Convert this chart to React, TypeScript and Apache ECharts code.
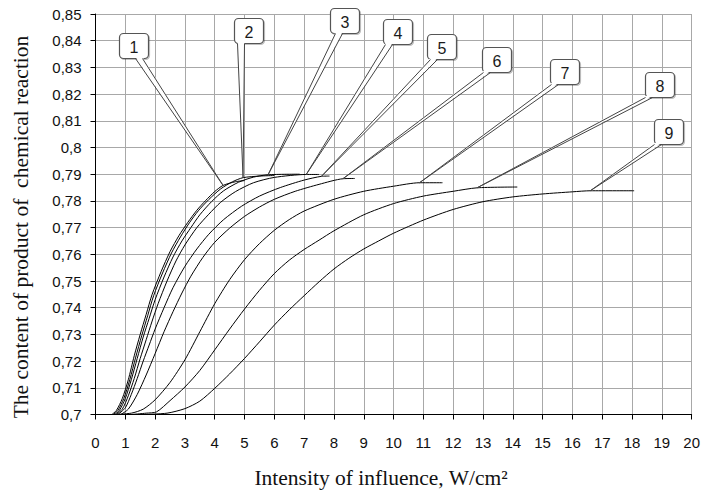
import React, { useEffect, useRef } from "react";
import * as echarts from "echarts";

// ---- data ----
const xTicks = [0, 20, 1]; // min, max, interval
const yTicks = [0.7, 0.85, 0.01];

const curve1: [number, number][] = [
  [0.55, 0.7], [0.7, 0.7015], [0.9, 0.706], [1.1, 0.713], [1.3, 0.722], [1.5, 0.73],
  [1.7, 0.7375], [1.9, 0.745], [2.2, 0.7535], [2.5, 0.761], [2.8, 0.767], [3.1, 0.772],
  [3.4, 0.7765], [3.7, 0.7802], [4.0, 0.7835], [4.28, 0.7858], [4.7, 0.7872], [5.0, 0.7876],
];
const curve2: [number, number][] = [
  [0.6, 0.7], [0.75, 0.7015], [0.95, 0.706], [1.15, 0.713], [1.35, 0.7215], [1.55, 0.7295],
  [1.75, 0.737], [1.95, 0.7445], [2.25, 0.753], [2.55, 0.7605], [2.85, 0.7665], [3.15, 0.7718],
  [3.45, 0.7763], [3.8, 0.7805], [4.2, 0.7845], [4.6, 0.7872], [4.95, 0.7887], [5.5, 0.7893], [6.0, 0.7895],
];
const curve3: [number, number][] = [
  [0.65, 0.7], [0.8, 0.7015], [1.0, 0.706], [1.2, 0.713], [1.4, 0.721], [1.6, 0.729],
  [1.8, 0.736], [2.0, 0.743], [2.3, 0.7515], [2.6, 0.759], [2.9, 0.765], [3.2, 0.770],
  [3.5, 0.7748], [3.9, 0.7798], [4.3, 0.7838], [4.8, 0.787], [5.3, 0.7889], [5.79, 0.7898], [6.85, 0.79],
];
const curve4: [number, number][] = [
  [0.7, 0.7], [0.9, 0.702], [1.1, 0.707], [1.3, 0.7135], [1.5, 0.721], [1.7, 0.728],
  [1.9, 0.735], [2.1, 0.7415], [2.4, 0.75], [2.7, 0.7575], [3.0, 0.7635], [3.4, 0.77],
  [3.8, 0.775], [4.2, 0.7795], [4.7, 0.7835], [5.3, 0.7868], [6.0, 0.7888], [7.07, 0.7899], [7.5, 0.7899],
];
const curve5: [number, number][] = [
  [0.75, 0.7], [1.0, 0.7025], [1.2, 0.7075], [1.4, 0.7135], [1.6, 0.72], [1.8, 0.726],
  [2.0, 0.732], [2.3, 0.74], [2.6, 0.7475], [3.0, 0.7555], [3.4, 0.762], [3.8, 0.7675],
  [4.3, 0.773], [4.9, 0.778], [5.5, 0.7818], [6.2, 0.785], [7.0, 0.7878], [7.58, 0.7892], [7.85, 0.7893],
];
const curve6: [number, number][] = [
  [0.85, 0.7], [1.1, 0.702], [1.4, 0.7075], [1.7, 0.7148], [2.0, 0.7228], [2.3, 0.731],
  [2.6, 0.7385], [2.9, 0.7455], [3.2, 0.7518], [3.6, 0.7588], [4.0, 0.7645], [4.5, 0.7698],
  [5.0, 0.7742], [5.5, 0.7777], [6.0, 0.7806], [6.7, 0.7836], [7.5, 0.7862], [8.3, 0.7883], [8.7, 0.7884],
];
const curve7: [number, number][] = [
  [0.6, 0.7], [1.2, 0.7005], [1.6, 0.702], [2.0, 0.7055], [2.5, 0.712], [3.0, 0.7205],
  [3.5, 0.731], [4.0, 0.7415], [4.5, 0.7505], [5.0, 0.758], [5.5, 0.764], [6.0, 0.769],
  [6.5, 0.773], [7.0, 0.7762], [8.0, 0.7806], [9.0, 0.7836], [10.0, 0.7855], [10.87, 0.7868], [11.64, 0.7868],
];
const curve8: [number, number][] = [
  [1.2, 0.7], [1.7, 0.7005], [2.05, 0.701], [2.5, 0.7052], [3.0, 0.7103], [3.5, 0.7165],
  [4.0, 0.7242], [4.5, 0.732], [5.0, 0.7395], [5.5, 0.7465], [6.0, 0.7528], [6.5, 0.7578],
  [7.0, 0.7618], [7.5, 0.7653], [8.0, 0.7688], [9.0, 0.7748], [10.0, 0.779], [11.0, 0.7818],
  [12.0, 0.7836], [12.8, 0.7849], [14.15, 0.7852],
];
const curve9: [number, number][] = [
  [1.6, 0.7], [2.4, 0.7005], [3.0, 0.7022], [3.5, 0.705], [4.0, 0.7098], [4.5, 0.7152],
  [5.0, 0.721], [5.5, 0.7272], [6.0, 0.7335], [6.5, 0.7392], [7.0, 0.7445], [7.5, 0.7497],
  [8.0, 0.7545], [8.5, 0.7585], [9.0, 0.762], [9.5, 0.765], [10.0, 0.7679], [11.0, 0.7728],
  [12.0, 0.7768], [13.0, 0.7797], [14.0, 0.7815], [15.0, 0.7826], [16.0, 0.7834], [16.6, 0.7838], [18.07, 0.7838],
];

const curves = [curve1, curve2, curve3, curve4, curve5, curve6, curve7, curve8, curve9];
const curveNames = ["1", "2", "3", "4", "5", "6", "7", "8", "9"];
// point on each curve that the numbered callout points to (data coords)
const calloutTargets: [number, number][] = [
  [4.28, 0.7858], [4.95, 0.7887], [5.79, 0.7898], [7.07, 0.7899], [7.58, 0.7892],
  [8.3, 0.7883], [10.87, 0.7868], [12.8, 0.7849], [16.6, 0.7838],
];

// ---- layout of callout boxes (pixels): left, top, wedge base offset from left ----
const boxLayout: [number, number, number][] = [
  [119, 33, 16], [234, 18, 3], [330, 8, 5], [383, 19, 2], [427, 34, 3],
  [482, 47, 1], [550, 59, 1], [645, 72, 0], [654, 119, 0],
];
const BOX_W = 29;
const BOX_H = 25;
const WEDGE_W = 7;

const yTitle = "The content of product of  chemical reaction";
const xTitle = "Intensity of influence, W/cm\u00b2";

function fmtY(v: number) {
  return String(Math.round(v * 100) / 100).replace(".", ",");
}

export default function App() {
  const ref = useRef<HTMLDivElement>(null);
  useEffect(() => {
    if (!ref.current) return;
    const chart = echarts.init(ref.current, undefined, { renderer: "svg" });
    const axisText = { color: "#111", fontFamily: "Liberation Sans, Arial, sans-serif", fontSize: 15 };
    chart.setOption({
      animation: false,
      backgroundColor: "#fff",
      grid: { left: 95.5, right: 10.5, top: 14, bottom: 80.5, containLabel: false },
      xAxis: {
        type: "value",
        min: xTicks[0],
        max: xTicks[1],
        interval: xTicks[2],
        axisLine: { lineStyle: { color: "#000", width: 1 } },
        axisTick: { show: true, length: 5, lineStyle: { color: "#000" } },
        axisLabel: { ...axisText, margin: 20 },
        splitLine: { show: true, lineStyle: { color: "#a8a8a8", width: 1 } },
      },
      yAxis: {
        type: "value",
        min: yTicks[0],
        max: yTicks[1],
        interval: yTicks[2],
        axisLine: { show: true, lineStyle: { color: "#000", width: 1 } },
        axisTick: { show: true, length: 5, lineStyle: { color: "#000" } },
        axisLabel: { ...axisText, margin: 14, formatter: fmtY },
        splitLine: { show: true, lineStyle: { color: "#a8a8a8", width: 1 } },
      },
      series: curves.map((c, i) => ({
        name: curveNames[i],
        type: "line",
        data: c,
        showSymbol: false,
        smooth: 0.25,
        lineStyle: { color: "#000", width: 1 },
        z: 3,
      })),
    });

    const graphics: any[] = [];
    calloutTargets.forEach((t, i) => {
      const p = chart.convertToPixel({ xAxisIndex: 0, yAxisIndex: 0 }, t) as number[];
      const [bx, by, off] = boxLayout[i];
      const b0 = bx + off;
      const b1 = b0 + WEDGE_W;
      const bb = by + BOX_H;
      graphics.push({
        type: "rect",
        shape: { x: bx + 0.5, y: by + 0.5, width: BOX_W, height: BOX_H, r: 4 },
        style: { fill: "#fff", stroke: "#555", lineWidth: 1.2, shadowColor: "rgba(0,0,0,0.25)", shadowOffsetX: 1, shadowOffsetY: 1, shadowBlur: 1 },
        z: 10,
      });
      graphics.push({
        type: "polygon",
        shape: { points: [[b0 + 0.5, bb - 1], [b1 + 0.5, bb - 1], [p[0], p[1]]] },
        style: { fill: "#fff", stroke: "none" },
        z: 11,
      });
      graphics.push({
        type: "polyline",
        shape: { points: [[b0 + 0.5, bb + 0.5], [p[0], p[1]], [b1 + 0.5, bb + 0.5]] },
        style: { fill: "none", stroke: "#444", lineWidth: 1 },
        z: 12,
      });
      graphics.push({
        type: "text",
        style: {
          x: bx + 0.5 + BOX_W / 2,
          y: by + 0.5 + BOX_H / 2 + 1,
          text: curveNames[i],
          fill: "#1a1a1a",
          fontSize: 16,
          fontFamily: "Liberation Sans, Arial, sans-serif",
          align: "center",
          verticalAlign: "middle",
        },
        z: 13,
      });
    });
    graphics.push({
      type: "text",
      x: 21,
      y: 227,
      rotation: Math.PI / 2,
      style: {
        text: yTitle,
        fill: "#111",
        fontSize: 21.5,
        fontFamily: "Liberation Serif, Times New Roman, serif",
        align: "center",
        verticalAlign: "middle",
      },
      z: 5,
    });
    graphics.push({
      type: "text",
      x: 381,
      y: 478,
      style: {
        text: xTitle,
        fill: "#111",
        fontSize: 21.5,
        fontFamily: "Liberation Serif, Times New Roman, serif",
        align: "center",
        verticalAlign: "middle",
      },
      z: 5,
    });
    chart.setOption({ graphic: graphics });

    return () => chart.dispose();
  }, []);
  return (
    <div
      ref={ref}
      style={{ position: "fixed", left: 0, top: 0, width: 703, height: 495, background: "#fff" }}
    />
  );
}
